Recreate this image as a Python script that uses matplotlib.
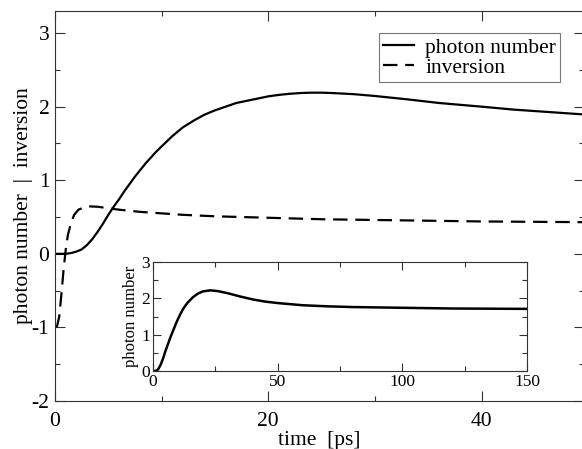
import matplotlib
matplotlib.use('Agg')
import matplotlib.pyplot as plt
from matplotlib.ticker import MultipleLocator

plt.rcParams['font.family'] = ['Liberation Serif', 'DejaVu Serif']
plt.rcParams['axes.unicode_minus'] = False

# main panel: time [ps]
t_photon = [0, 0.5, 1, 1.5, 2, 2.5, 3, 3.5, 4, 4.5, 5, 5.5, 6, 6.5, 7, 7.5, 8, 8.5, 9,
            9.5, 10, 11, 12, 13, 14, 15, 16, 17, 18, 19, 20, 21, 22, 23, 24, 25, 26,
            28, 30, 33, 36, 40, 43, 46, 50]
photon = [0, 0, 0, 0.01, 0.03, 0.06, 0.12, 0.2, 0.3, 0.41, 0.53, 0.64, 0.74, 0.85,
          0.95, 1.05, 1.14, 1.23, 1.31, 1.39, 1.46, 1.6, 1.72, 1.81, 1.89, 1.95, 2.0,
          2.05, 2.08, 2.11, 2.14, 2.16, 2.175, 2.185, 2.19, 2.19, 2.185, 2.17, 2.145,
          2.1, 2.05, 2.0, 1.96, 1.93, 1.89]

t_inv = [0, 0.2, 0.4, 0.6, 0.8, 1.0, 1.2, 1.5, 1.8, 2.2, 2.7, 3.2, 4, 5, 6, 8, 10,
         12, 15, 20, 25, 30, 35, 40, 45, 50]
inversion = [-1.0, -0.98, -0.85, -0.55, -0.22, 0.05, 0.25, 0.42, 0.53, 0.6, 0.63,
             0.645, 0.64, 0.62, 0.6, 0.57, 0.55, 0.53, 0.51, 0.49, 0.47, 0.46, 0.45,
             0.44, 0.435, 0.43]

# inset: longer time range
t_long = [0, 1, 2, 3, 4, 5, 6, 7, 8, 9, 10, 11, 12, 13, 14, 15, 16, 18, 20, 23, 26,
          30, 35, 40, 45, 50, 60, 70, 80, 90, 100, 120, 150]
photon_long = [0, 0, 0.04, 0.16, 0.34, 0.55, 0.74, 0.93, 1.1, 1.27, 1.43, 1.57, 1.7,
               1.8, 1.89, 1.96, 2.03, 2.13, 2.19, 2.22, 2.2, 2.14, 2.05, 1.97, 1.91,
               1.87, 1.81, 1.78, 1.76, 1.75, 1.74, 1.72, 1.71]

fig = plt.figure(figsize=(5.82, 4.49), dpi=100)
ax = fig.add_axes([55/582, 1-401/449, 529/582, 390/449])

ax.plot(t_photon, photon, color='black', lw=1.6, label='photon number')
ax.plot(t_inv, inversion, color='black', lw=1.6, dashes=(6.5, 3.5), label='inversion')
ax.set_xlim(0, 49.6)
ax.set_ylim(-2, 3.3)
ax.xaxis.set_major_locator(MultipleLocator(20))
ax.xaxis.set_minor_locator(MultipleLocator(10))
ax.yaxis.set_major_locator(MultipleLocator(1))
ax.yaxis.set_minor_locator(MultipleLocator(0.5))
ax.tick_params(which='both', direction='in', top=True, right=True, labelsize=15.5,
               color='#333333', width=0.8)
ax.tick_params(which='major', length=7.2)
ax.tick_params(which='minor', length=3.6)
ax.tick_params(axis='x', which='major', pad=8)
ax.tick_params(axis='y', which='major', pad=4)
for s in ax.spines.values():
    s.set_color('#333333')
    s.set_linewidth(0.8)
ax.set_xlabel('time  [ps]', fontsize=15.5, labelpad=0)
ax.set_ylabel('photon number  |  inversion', fontsize=15.5, labelpad=-1)
leg = ax.legend(loc='upper right', bbox_to_anchor=(0.955, 0.943), fontsize=15.5,
                frameon=True, fancybox=False, handlelength=1.45, handletextpad=0.5,
                borderpad=0.2, labelspacing=0.0, borderaxespad=0)
leg.get_frame().set_edgecolor('#555555')
leg.get_frame().set_linewidth(0.8)

ins = fig.add_axes([153/582, 1-371/449, 374/582, 109/449])
ins.plot(t_long, photon_long, color='black', lw=1.8)
ins.set_xlim(0, 150)
ins.set_ylim(0, 3)
ins.xaxis.set_major_locator(MultipleLocator(50))
ins.xaxis.set_minor_locator(MultipleLocator(25))
ins.yaxis.set_major_locator(MultipleLocator(1))
ins.yaxis.set_minor_locator(MultipleLocator(0.5))
ins.tick_params(which='both', direction='in', top=True, right=True, labelsize=12.5,
                color='#333333', width=0.8, pad=2)
ins.tick_params(which='major', length=5.5)
ins.tick_params(which='minor', length=3.5)
for s in ins.spines.values():
    s.set_color('#333333')
    s.set_linewidth(0.8)
ins.set_ylabel('photon number', fontsize=12, labelpad=2)

fig.savefig('out.png', dpi=100)
